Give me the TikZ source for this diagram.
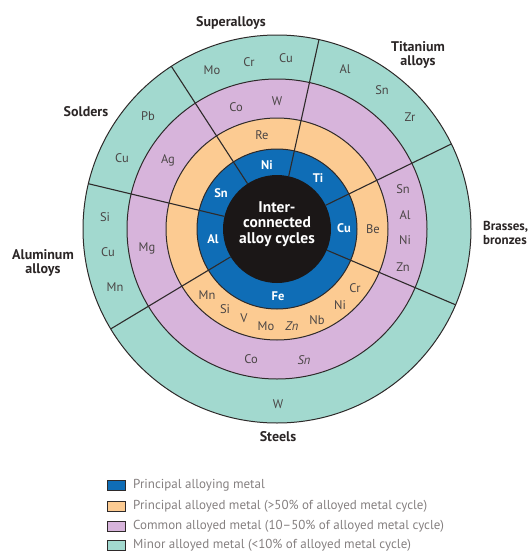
\documentclass[tikz,border=0pt]{standalone}
\usepackage{fontspec}
\setmainfont{PT Sans}
\usetikzlibrary{calc}
\definecolor{cblue}{HTML}{0F6DB6}
\definecolor{corange}{HTML}{FCCB92}
\definecolor{cpurple}{HTML}{D7B4DB}
\definecolor{cteal}{HTML}{A2D9CF}
\definecolor{ccore}{HTML}{1B1717}
\definecolor{cline}{HTML}{2E2A2A}
\definecolor{ctext}{HTML}{4A4545}
\definecolor{clabel}{HTML}{2B2626}
\definecolor{clegend}{HTML}{858080}
\begin{document}
\begin{tikzpicture}[x=1pt,y=-1pt,
  ringline/.style={draw=cline,line width=1pt},
  divline/.style={draw=cline,line width=1.1pt},
  el/.style={text=ctext,font=\fontsize{12.5}{13}\selectfont,inner sep=0pt},
  eli/.style={text=ctext,font=\itshape\fontsize{12.5}{13}\selectfont,inner sep=0pt},
  elw/.style={text=white,font=\bfseries\fontsize{12.5}{13}\selectfont,inner sep=0pt},
  sect/.style={text=clabel,font=\bfseries\fontsize{14}{14}\selectfont,align=center,inner sep=0pt},
  legbox/.style={draw=cline,line width=0.8pt,minimum width=18pt,minimum height=10pt,inner sep=0pt},
  legtxt/.style={text=clegend,font=\fontsize{13}{13}\selectfont,anchor=west,inner sep=0pt}]
\useasboundingbox (0,0) rectangle (532,552);
\coordinate (O) at (277,229);
% rings
\fill[cteal] (O) circle (194pt);
\fill[cpurple] (O) circle (150pt);
\fill[corange] (O) circle (111pt);
\fill[cblue] (O) circle (80pt);
\fill[ccore] (O) circle (54pt);
\draw[ringline] (O) circle (194pt);
\draw[ringline] (O) circle (150pt);
\draw[ringline] (O) circle (111pt);
\draw[ringline] (O) circle (80pt);
% sector dividers
\foreach \a in {123,77.5,26,-23,211,166.5}
  \draw[divline] ($(O)+(\a:54pt)$) -- ($(O)+(\a:194pt)$);
% centre text
\node[text=white,font=\bfseries\fontsize{15.5}{15.5}\selectfont,align=center,inner sep=0pt] (core) at (277,224) {Inter-\\connected\\alloy cycles};
% sector labels
\node[sect] (lsuper) at (231,23) {Superalloys};
\node[sect] (ltitan) at (418,55) {Titanium\\alloys};
\node[sect] (lsold) at (86,112) {Solders};
\node[sect] (lalum) at (43,263) {Aluminum\\alloys};
\node[sect,anchor=west,align=left,font=\bfseries\fontsize{13}{14}\selectfont] (lbrass) at (483,233) {Brasses,\\bronzes};
\node[sect] (lsteel) at (278,437) {Steels};
% superalloys
\node[elw] (s1) at (267,165) {Ni};
\node[el] (s2) at (262,135) {Re};
\node[el] (s3) at (236,107) {Co};
\node[el] (s4) at (277,101) {W};
\node[el] (s5) at (212,70) {Mo};
\node[el] (s6) at (249,62) {Cr};
\node[el] (s7) at (286,58) {Cu};
% titanium
\node[elw] (t1) at (318,178) {Ti};
\node[el] (t2) at (345,69) {Al};
\node[el] (t3) at (382,90) {Sn};
\node[el] (t4) at (410,117) {Zr};
% solders
\node[elw] (o1) at (221,193) {Sn};
\node[el] (o2) at (168,160) {Ag};
\node[el] (o3) at (148,116) {Pb};
\node[el] (o4) at (122,158) {Cu};
% aluminum
\node[elw] (a1) at (213,239) {Al};
\node[el] (a2) at (147,248) {Mg};
\node[el] (a3) at (105,217) {Si};
\node[el] (a4) at (108,252) {Cu};
\node[el] (a5) at (115,287) {Mn};
% brasses
\node[elw] (b1) at (344,228) {Cu};
\node[el] (b2) at (373,229) {Be};
\node[el] (b3) at (403,189) {Sn};
\node[el] (b4) at (405,215) {Al};
\node[el] (b5) at (405,240) {Ni};
\node[el] (b6) at (403,267) {Zn};
% steels
\node[elw] (f1) at (278,296) {Fe};
\node[el] (f2) at (207,295) {Mn};
\node[el] (f3) at (225,309) {Si};
\node[el] (f4) at (244,318) {V};
\node[el] (f5) at (266,326) {Mo};
\node[eli] (f6) at (292,326) {Zn};
\node[el] (f7) at (317,320) {Nb};
\node[el] (f8) at (340,305) {Ni};
\node[el] (f9) at (355,288) {Cr};
\node[el] (f10) at (251,359) {Co};
\node[eli] (f11) at (304,360) {Sn};
\node[el] (f12) at (278,404) {W};
% legend
\node[legbox,fill=cblue] (k1) at (116,485) {};
\node[legbox,fill=corange] (k2) at (116,506) {};
\node[legbox,fill=cpurple] (k3) at (116,526) {};
\node[legbox,fill=cteal] (k4) at (116,545) {};
\node[legtxt] (k1t) at (133,485) {Principal alloying metal};
\node[legtxt] (k2t) at (133,506) {Principal alloyed metal (>50\% of alloyed metal cycle)};
\node[legtxt] (k3t) at (133,526) {Common alloyed metal (10–50\% of alloyed metal cycle)};
\node[legtxt] (k4t) at (133,545) {Minor alloyed metal (<10\% of alloyed metal cycle)};
\end{tikzpicture}
\end{document}
